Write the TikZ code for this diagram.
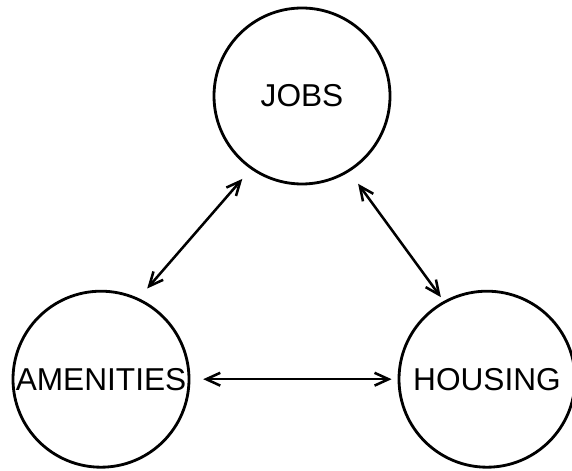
\documentclass[tikz,border=0pt]{standalone}
\usepackage{fontspec}
\setmainfont{Liberation Sans}
\usetikzlibrary{arrows.meta}

\begin{document}
\begin{tikzpicture}[
    factor/.style={draw, circle, line width=2pt, minimum size=4.4cm, inner sep=0pt,
                   font=\fontsize{22.5}{27}\selectfont},
    link/.style={{Straight Barb[length=3.5mm,width=3.2mm]}-{Straight Barb[length=3.5mm,width=3.2mm]},
                 line width=1.8pt}
]

    % Frame
    \useasboundingbox (0,0) rectangle (14.3,11.75);

    % Circles
    \node[factor] (jobs) at (7.55,9.35) {JOBS};
    \node[factor] (amenities) at (2.525,2.27) {AMENITIES};
    \node[factor] (housing) at (12.175,2.27) {HOUSING};

    % Arrows
    \draw[link, shorten <=0.32cm, shorten >=0.32cm] (jobs.235) -- (amenities.65);
    \draw[link, shorten <=0.37cm, shorten >=0.12cm] (jobs.302) -- (housing.119);
    \draw[link, shorten <=0.32cm, shorten >=0.15cm] (amenities.0) -- (housing.180);

\end{tikzpicture}
\end{document}
